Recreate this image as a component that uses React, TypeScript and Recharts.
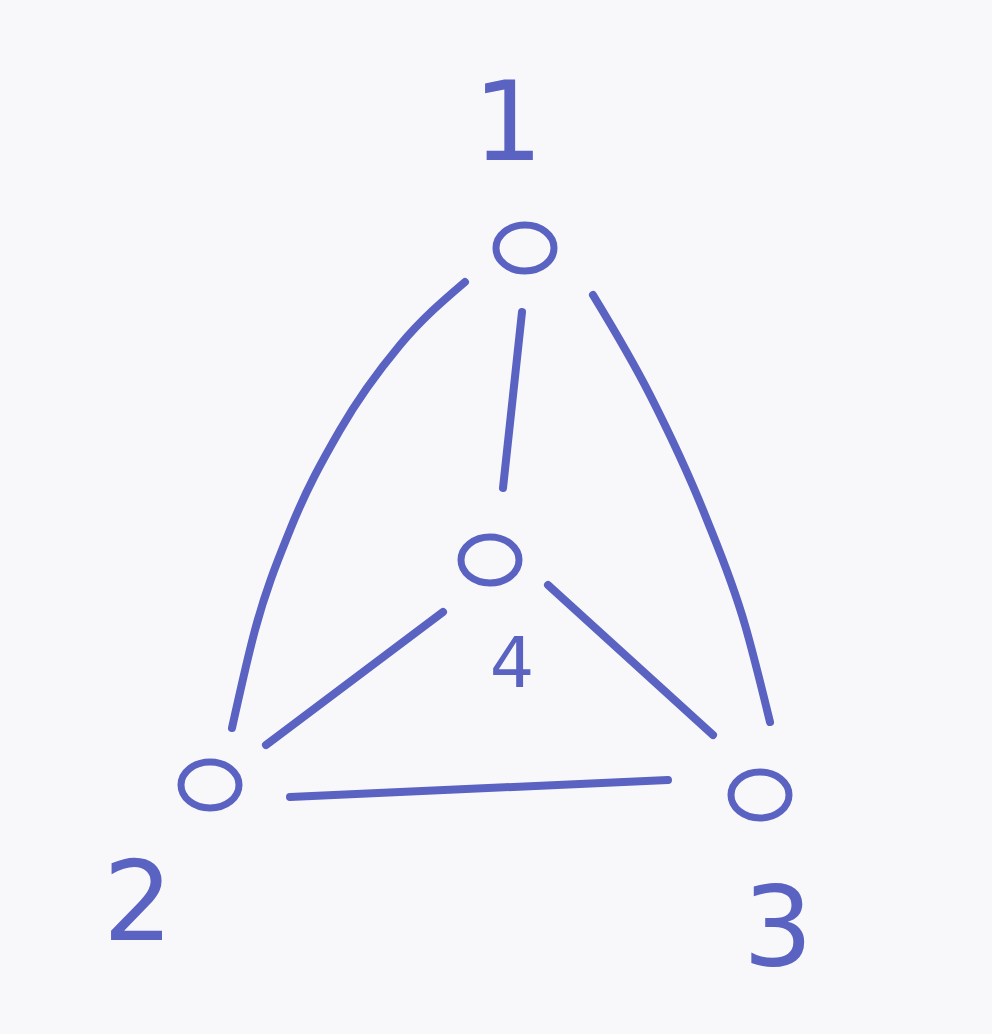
import { ScatterChart, Scatter, XAxis, YAxis } from "recharts";

const nodes = [
  { x: 525, y: 248, id: "1" },
  { x: 210, y: 785, id: "2" },
  { x: 760, y: 795, id: "3" },
  { x: 490, y: 560, id: "4" },
];

const labels = [
  { x: 508, y: 130, text: "1" },
  { x: 138, y: 910, text: "2" },
  { x: 778, y: 935, text: "3" },
  { x: 512, y: 668, text: "4" },
];

const edge12 = [
  { x: 465, y: 282 }, { x: 400, y: 345 }, { x: 340, y: 430 },
  { x: 290, y: 530 }, { x: 255, y: 630 }, { x: 232, y: 728 },
];
const edge13 = [
  { x: 593, y: 295 }, { x: 650, y: 395 }, { x: 705, y: 515 },
  { x: 745, y: 625 }, { x: 770, y: 722 },
];
const edge14 = [{ x: 522, y: 312 }, { x: 503, y: 488 }];
const edge42 = [{ x: 443, y: 612 }, { x: 266, y: 745 }];
const edge43 = [{ x: 548, y: 585 }, { x: 713, y: 735 }];
const edge23 = [{ x: 290, y: 797 }, { x: 668, y: 780 }];

const edges = [edge12, edge13, edge14, edge42, edge43, edge23];
const INK = "#5a62c2";

export default function App() {
  return (
    <div style={{ position: "fixed", top: 0, left: 0, width: 992, height: 1034, background: "#f8f8fa" }}>
      <ScatterChart width={992} height={1034} margin={{ top: 0, right: 0, bottom: 0, left: 0 }}>
        <XAxis type="number" dataKey="x" domain={[0, 992]} hide />
        <YAxis type="number" dataKey="y" domain={[0, 1034]} reversed hide />
        {edges.map((e, i) => (
          <Scatter
            key={i}
            data={e}
            line={{ stroke: INK, strokeWidth: 8, strokeLinecap: "round" }}
            lineJointType="monotoneX"
            shape={() => null}
            isAnimationActive={false}
          />
        ))}
        <Scatter
          data={nodes}
          isAnimationActive={false}
          shape={(p: any) => (
            <ellipse cx={p.cx} cy={p.cy} rx={29} ry={23} fill="none" stroke={INK} strokeWidth={7} />
          )}
        />
        <Scatter
          data={labels}
          isAnimationActive={false}
          shape={(p: any) => (
            <text
              x={p.cx}
              y={p.cy}
              textAnchor="middle"
              dominantBaseline="middle"
              fill={INK}
              fontFamily="DejaVu Sans"
              fontSize={p.payload.text === "4" ? 70 : 110}
            >
              {p.payload.text}
            </text>
          )}
        />
      </ScatterChart>
    </div>
  );
}
